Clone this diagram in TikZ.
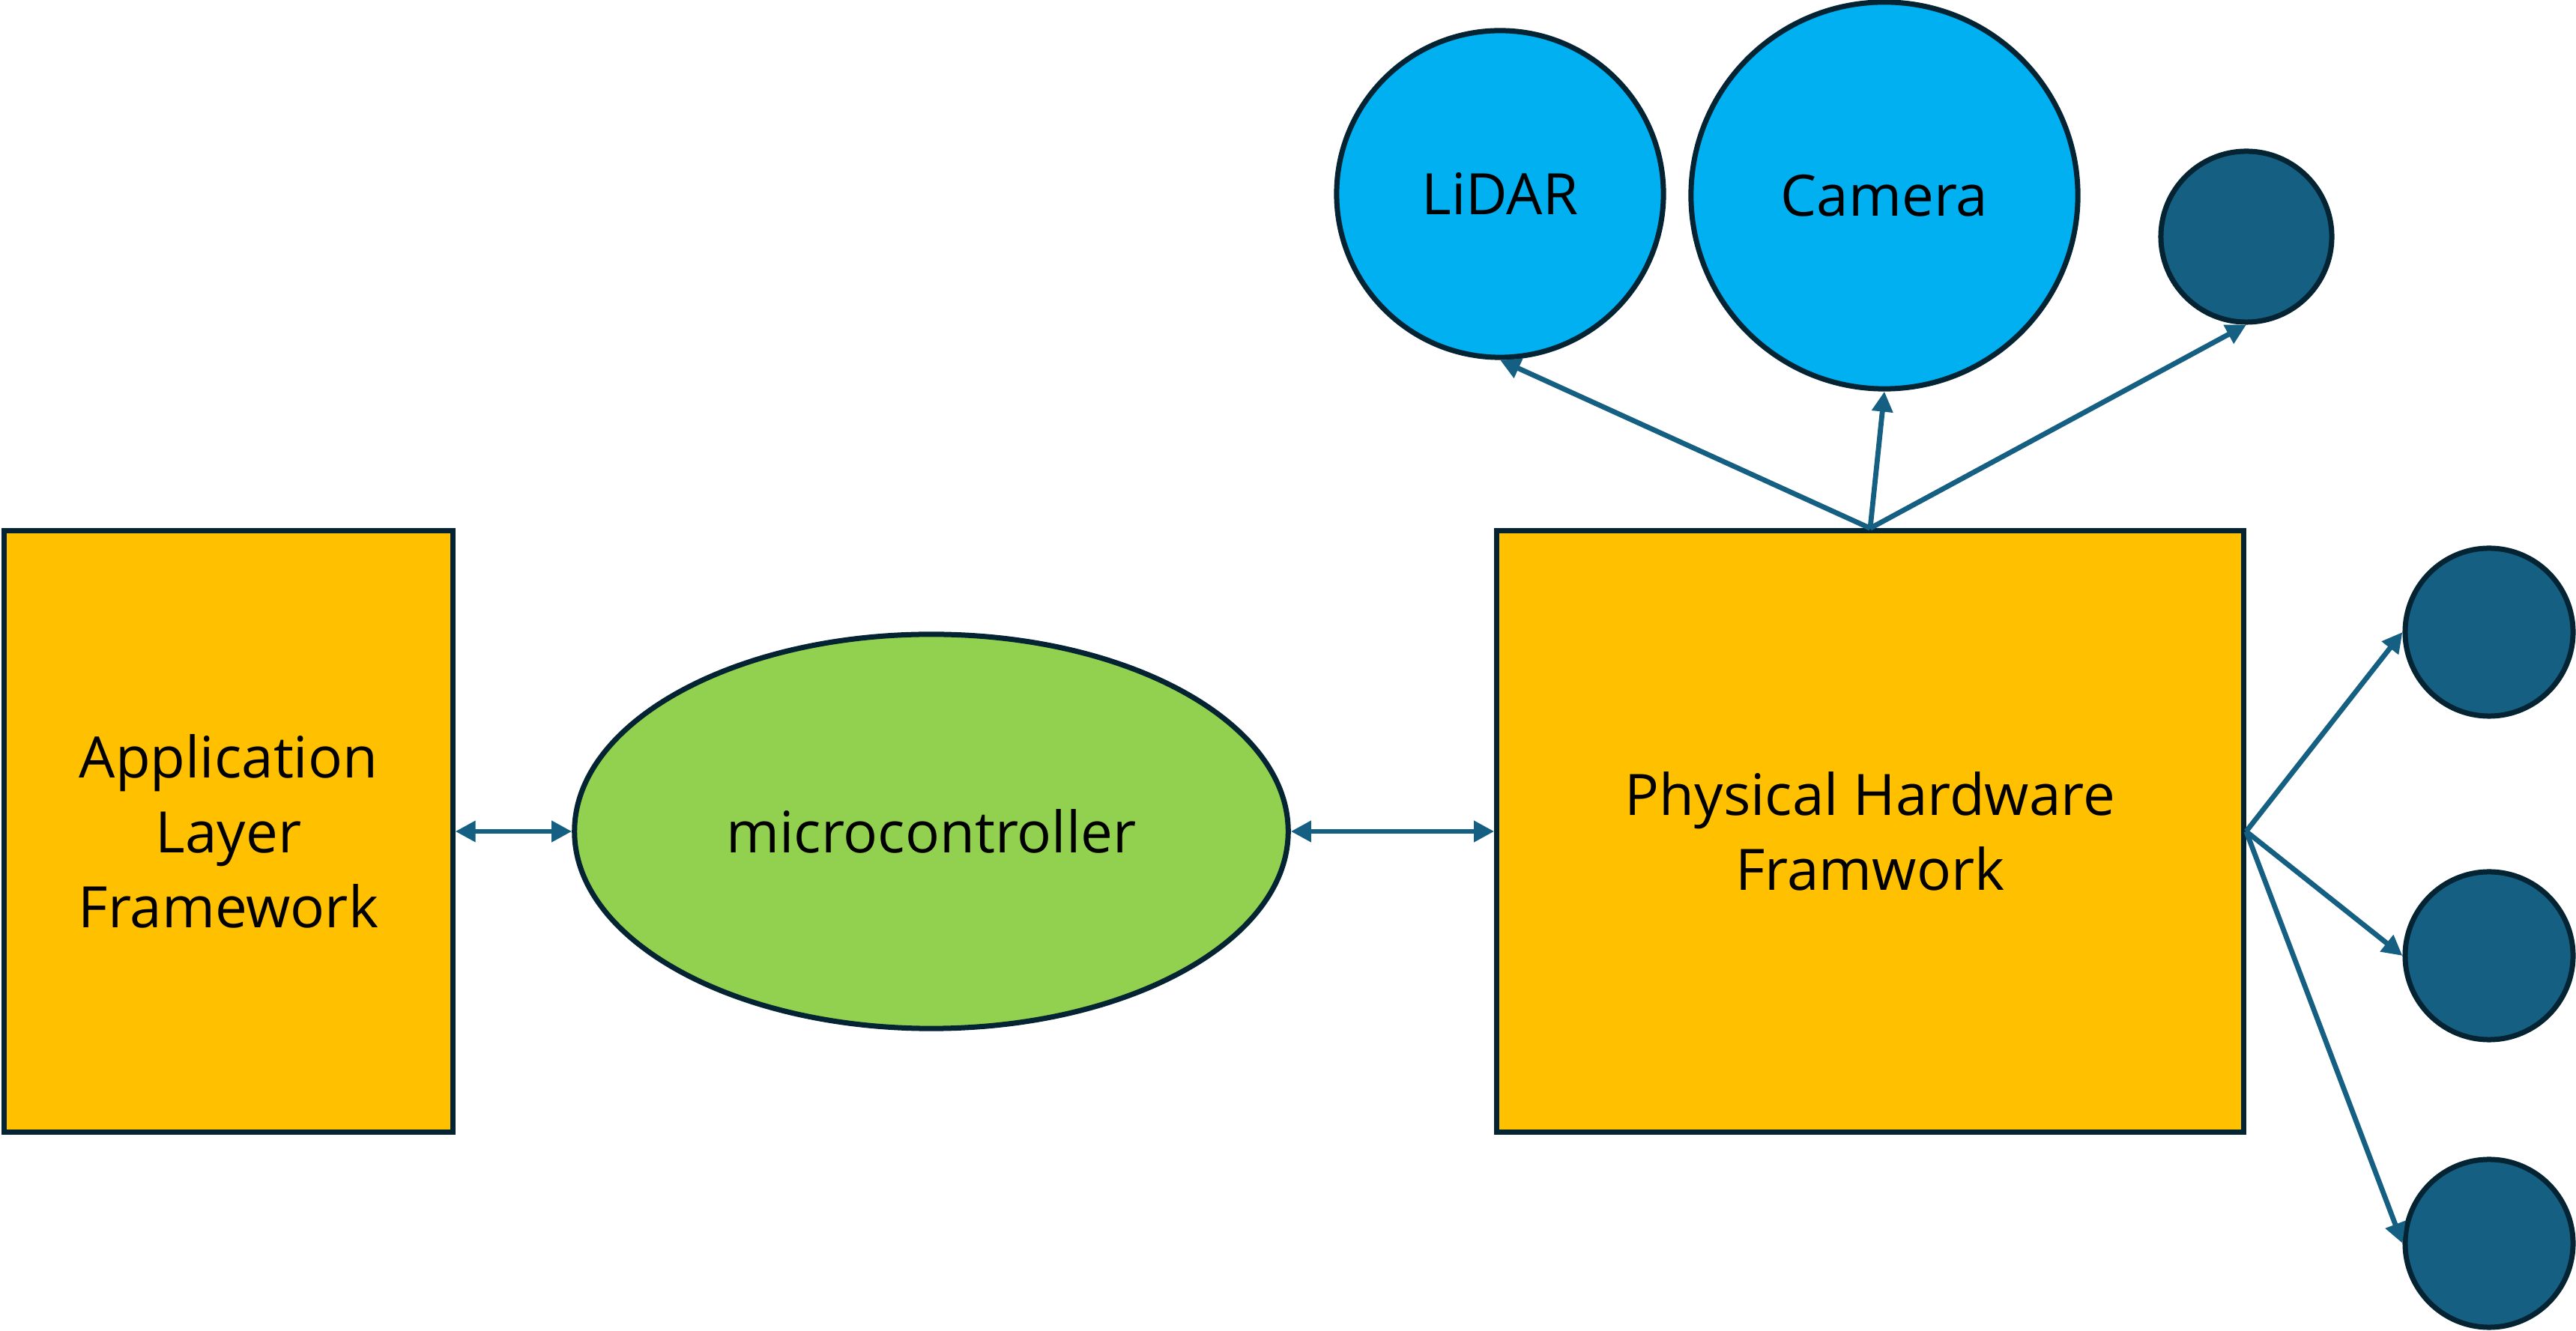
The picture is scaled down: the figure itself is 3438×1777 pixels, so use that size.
\documentclass[tikz,border=0pt]{standalone}
\usepackage{fontspec}
\setmainfont{Open Sans}
\usetikzlibrary{shapes.geometric,arrows.meta}
\definecolor{boxfill}{HTML}{FFC000}
\definecolor{edgedark}{HTML}{042433}
\definecolor{mcgreen}{HTML}{92D050}
\definecolor{sensorblue}{HTML}{00B0F0}
\definecolor{darkblue}{HTML}{156082}
\tikzset{
  shapeline/.style={draw=edgedark, line width=0.07cm, inner sep=0pt, align=center,
    font=\fontsize{21.7}{28.5}\selectfont},
  layerbox/.style={shapeline, rectangle, fill=boxfill},
  mcnode/.style={shapeline, ellipse, fill=mcgreen},
  sensor/.style={shapeline, circle, fill=sensorblue},
  device/.style={shapeline, circle, fill=darkblue},
  link/.style={draw=darkblue, line width=0.068cm,
    -{Triangle[length=0.27cm,width=0.27cm]}},
  dlink/.style={draw=darkblue, line width=0.068cm,
    {Triangle[length=0.27cm,width=0.27cm]}-{Triangle[length=0.27cm,width=0.27cm]}}
}
\begin{document}
\begin{tikzpicture}[x=0.01cm,y=-0.01cm]
\useasboundingbox (0,0) rectangle (3438,1777);
\node[layerbox, minimum width=5.98cm, minimum height=8.02cm] (app) at (305,1110)
  {Application\\Layer\\Framework};
\node[mcnode, minimum width=9.52cm, minimum height=5.26cm] (mc) at (1243,1110)
  {microcontroller};
\node[layerbox, minimum width=9.96cm, minimum height=8.02cm] (phys) at (2496,1110)
  {Physical Hardware\\Framwork};
\node[sensor, minimum size=4.36cm] (lidar) at (2002,259) {LiDAR};
\node[sensor, minimum size=5.16cm] (cam) at (2515,261) {Camera};
\node[device, minimum size=2.28cm] (s1) at (2998,316) {};
\node[device, minimum size=2.24cm] (r1) at (3322,844) {};
\node[device, minimum size=2.24cm] (r2) at (3322,1276) {};
\node[device, minimum size=2.24cm] (r3) at (3322,1660) {};
\draw[dlink] (app.east) -- (mc.west);
\draw[dlink] (mc.east) -- (phys.west);
\draw[link] (phys.north) -- (lidar.south);
\draw[link] (phys.north) -- (cam.south);
\draw[link] (phys.north) -- (s1.south);
\draw[link] (phys.east) -- (r1.west);
\draw[link] (phys.east) -- (r2.west);
\draw[link] (phys.east) -- (r3.west);
\end{tikzpicture}
\end{document}
